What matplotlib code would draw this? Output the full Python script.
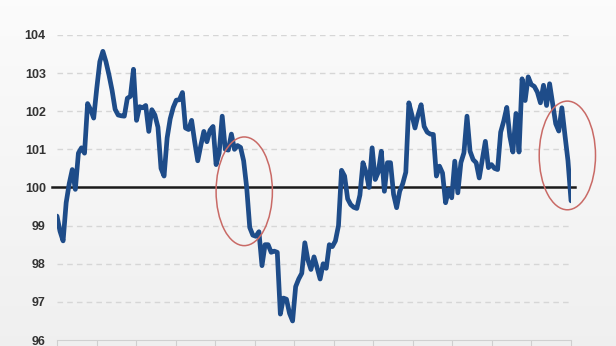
import matplotlib
matplotlib.use('Agg')
import numpy as np
import matplotlib.pyplot as plt
from matplotlib.patches import Ellipse

# monthly index values
values = [
    99.25, 98.85, 98.6, 99.6, 100.1, 100.47, 99.95, 100.9, 101.04, 100.9,
    102.2, 102.04, 101.82, 102.6, 103.3, 103.57, 103.3, 102.95, 102.55, 102.05,
    101.9, 101.88, 101.87, 102.34, 102.39, 103.1, 101.76, 102.12, 102.09, 102.15,
    101.47, 102.04, 101.9, 101.58, 100.5, 100.3, 101.3, 101.8, 102.1, 102.29,
    102.3, 102.49, 101.56, 101.52, 101.76, 101.2, 100.7, 101.1, 101.47, 101.2,
    101.5, 101.6, 100.6, 100.9, 101.87, 101.0, 100.98, 101.4, 101.0, 101.1,
    101.05, 100.7, 100.0, 98.95, 98.75, 98.72, 98.84, 97.95, 98.5, 98.5,
    98.3, 98.33, 98.3, 96.68, 97.1, 97.07, 96.7, 96.5, 97.4, 97.6,
    97.75, 98.55, 98.1, 97.85, 98.18, 97.9, 97.6, 98.0, 97.88, 98.5,
    98.45, 98.6, 99.0, 100.45, 100.3, 99.7, 99.55, 99.48, 99.45, 99.8,
    100.65, 100.4, 100.0, 101.04, 100.21, 100.4, 100.95, 99.9, 100.65, 100.65,
    99.82, 99.47, 99.9, 100.1, 100.4, 102.22, 101.9, 101.56, 101.9, 102.17,
    101.6, 101.45, 101.4, 101.39, 100.3, 100.56, 100.38, 99.6, 99.95, 99.73,
    100.69, 99.86, 100.65, 100.91, 101.87, 100.95, 100.73, 100.65, 100.25, 100.73,
    101.21, 100.52, 100.6, 100.5, 100.47, 101.45, 101.74, 102.1, 101.34, 100.93,
    101.94, 100.93, 102.85, 102.28, 102.9, 102.7, 102.65, 102.5, 102.22, 102.68,
    102.15, 102.72, 102.2, 101.67, 101.48, 102.09, 101.38, 100.7, 99.65,
]
months = np.arange(len(values))
yticks = [96, 97, 98, 99, 100, 101, 102, 103, 104]
n_xticks = 14

fig = plt.figure(figsize=(6.16, 3.46), dpi=100, facecolor='#f3f3f3')
# soft background gradient
bg = fig.add_axes([0, 0, 1, 1], zorder=-10)
grad = np.linspace(0.985, 0.94, 256).reshape(-1, 1)
bg.imshow(np.dstack([grad, grad, grad]), aspect='auto', extent=[0, 1, 0, 1])
bg.axis('off')

ax = fig.add_axes([0.0925, 0.0173, 0.8345, 0.8817])
ax.patch.set_alpha(0)

for v in yticks[1:]:
    if v != 100:
        ax.axhline(v, color='#d6d6d6', lw=1, ls=(0, (4, 3)), zorder=1)

ax.plot(months, values, color='#1e4c89', lw=3.4, solid_joinstyle='round',
        solid_capstyle='round', zorder=3)
ax.axhline(100, xmin=-0.01, xmax=1.008, color='#1a1a1a', lw=1.8, zorder=2,
           clip_on=False)

for cx, cy in [(61.2, 99.9), (166.8, 100.84)]:
    ax.add_patch(Ellipse((cx, cy), 18.4, 2.85, fill=False, ec='#c96a66',
                         lw=1.1, zorder=4, clip_on=False))

ax.set_xlim(0, months[-1])
ax.set_ylim(96, 104)
ax.set_yticks(yticks)
ax.set_yticklabels([str(v) for v in yticks], fontfamily='Liberation Sans',
                   fontweight='bold', fontsize=9, color='#333333')
ax.set_xticks(np.linspace(0, months[-1], n_xticks))
ax.set_xticklabels([])
ax.tick_params(axis='y', length=0, pad=8)
ax.tick_params(axis='x', length=6, color='#cfcfcf', direction='out')
for s in ['top', 'right', 'left']:
    ax.spines[s].set_visible(False)
ax.spines['bottom'].set_color('#d0d0d0')

fig.savefig('out.png', dpi=100, facecolor=fig.get_facecolor())
